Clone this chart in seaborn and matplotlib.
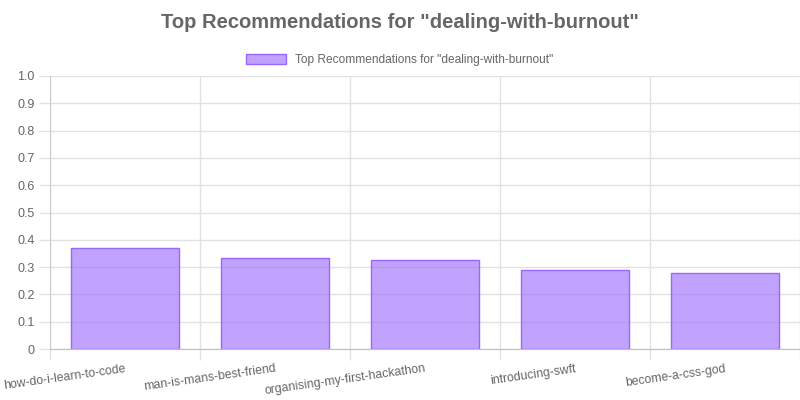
import matplotlib
matplotlib.use("Agg")
import matplotlib.pyplot as plt
import seaborn as sns
from matplotlib.patches import Rectangle

# data
posts = ["how-do-i-learn-to-code", "man-is-mans-best-friend",
         "organising-my-first-hackathon", "introducing-swft", "become-a-css-god"]
scores = [0.370, 0.333, 0.326, 0.289, 0.278]
y_ticks = [0, 0.1, 0.2, 0.3, 0.4, 0.5, 0.6, 0.7, 0.8, 0.9, 1.0]
y_tick_labels = ["0", "0.1", "0.2", "0.3", "0.4", "0.5", "0.6", "0.7", "0.8", "0.9", "1.0"]
title = 'Top Recommendations for "dealing-with-burnout"'

sns.set_style("white")
plt.rcParams["font.family"] = ["Liberation Sans", "DejaVu Sans"]

fill = (153 / 255, 102 / 255, 1.0, 0.6)
edge = "#9966ff"
text_col = "#666666"
grid_col = "#e2e2e2"

fig = plt.figure(figsize=(8, 4), dpi=100)
ax = fig.add_axes([50 / 800, 1 - 349 / 400, 750 / 800, 273 / 400])

sns.barplot(x=posts, y=scores, color=edge, width=0.72, ax=ax, zorder=2)
for bar in ax.patches:
    bar.set_facecolor(fill)
    bar.set_edgecolor(edge)
    bar.set_linewidth(1)

ax.set_xlim(-0.5, len(posts) - 0.5)
ax.set_ylim(0, 1.0)
ax.set_yticks(y_ticks)
ax.set_yticklabels(y_tick_labels)

# vertical grid at category boundaries
ax.set_xticks([i - 0.5 for i in range(len(posts) + 1)], minor=True)
ax.set_xticks(range(len(posts)))
ax.set_xticklabels(posts, rotation=8, ha="right", va="top", rotation_mode="anchor")
ax.grid(True, which="minor", axis="x", color=grid_col, linewidth=1, zorder=0)
ax.grid(True, which="major", axis="y", color=grid_col, linewidth=1, zorder=0)
ax.set_axisbelow(True)

ax.tick_params(axis="x", which="major", length=0, pad=10, labelsize=8.8, labelcolor=text_col)
ax.tick_params(axis="x", which="minor", length=8, color=grid_col, width=1, bottom=True)
ax.tick_params(axis="y", length=8, color=grid_col, width=1, pad=3, labelsize=9,
               labelcolor=text_col, left=True)

for side in ["top", "right"]:
    ax.spines[side].set_visible(False)
ax.spines["left"].set_color("#cccccc")
ax.spines["bottom"].set_color("#bfbfbf")
ax.set_xlabel("")
ax.set_ylabel("")

fig.text(0.5, 1 - 23 / 400, title, ha="center", va="center",
         fontsize=14.5, fontweight="bold", color=text_col)

handle = Rectangle((0, 0), 1, 1, facecolor=fill, edgecolor=edge, linewidth=1)
fig.legend([handle], [title], loc="center", bbox_to_anchor=(0.5, 1 - 60 / 400),
           frameon=False, fontsize=8.6, labelcolor=text_col,
           handlelength=3.3, handleheight=1.0, handletextpad=0.8)

fig.savefig("out.png", dpi=100)
